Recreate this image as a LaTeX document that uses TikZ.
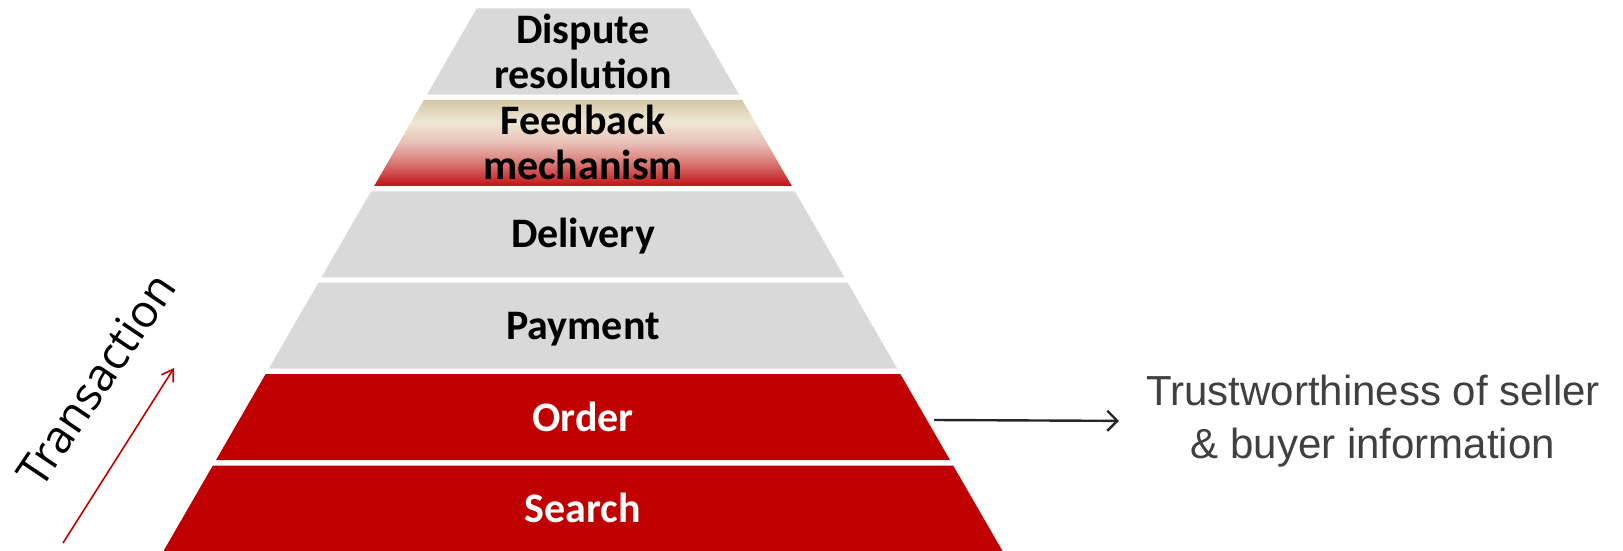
\documentclass[tikz,border=0pt]{standalone}
\usepackage{fontspec}
\setmainfont{Carlito}
\newfontfamily\notefont{Liberation Sans}
\newfontfamily\axisfont{Open Sans}
\usetikzlibrary{arrows.meta}

\definecolor{layergray}{RGB}{217,217,217}
\definecolor{layerred}{RGB}{192,0,0}
\definecolor{notegray}{RGB}{64,64,64}
\definecolor{fbtan}{RGB}{212,200,166}
\definecolor{fbcream}{RGB}{238,231,210}
\definecolor{fbpink}{RGB}{233,192,182}
\definecolor{fbrose}{RGB}{214,110,106}
\definecolor{fbred}{RGB}{192,18,22}

\pgfdeclareverticalshading{feedbackshade}{100bp}{color(0bp)=(fbred); color(25bp)=(fbred); color(37bp)=(fbrose); color(50bp)=(fbpink); color(62bp)=(fbcream); color(75bp)=(fbtan); color(100bp)=(fbtan)}

\begin{document}
\begin{tikzpicture}[y=-1pt,x=1pt,
	lbl/.style={font=\fontsize{42}{45}\selectfont\bfseries, align=center, text=black},
	lblw/.style={lbl, text=white},
	note/.style={font=\notefont\fontsize{42}{53}\selectfont, align=center, text=notegray, inner sep=0pt},
	axis/.style={font=\axisfont\fontsize{45.5}{50}\selectfont, text=black}]
	\newcommand\Layer[2]{({583-419.5+(551-#1)*0.5772},#1) -- ({583+419.5-(551-#1)*0.5772},#1) -- ({583+419.5-(551-#2)*0.5772},#2) -- ({583-419.5+(551-#2)*0.5772},#2) -- cycle}

	\useasboundingbox (0,0) rectangle (1623,551);

	% pyramid, top to bottom
	\fill[layergray] \Layer{8.5}{94.5};
	\shade[shading=feedbackshade] \Layer{99.9}{185.9};
	\fill[layergray] \Layer{191.3}{277.3};
	\fill[layergray] \Layer{282.7}{368.7};
	\fill[layerred] \Layer{374.1}{460.1};
	\fill[layerred] \Layer{465.5}{551.5};

	\node[lbl] (dispute) at (583,51.5) {Dispute\\resolution};
	\node[lbl] (feedback) at (583,142.9) {Feedback\\mechanism};
	\node[lbl] (delivery) at (583,236.3) {Delivery};
	\node[lbl] (payment) at (583,329.2) {Payment};
	\node[lblw] (order) at (583,417.1) {Order};
	\node[lblw] (search) at (583,507.5) {Search};

	% note on the right
	\coordinate (order-edge) at (934,420);
	\node[note] (trust) at (1373,421) {Trustworthiness of seller\\\& buyer information};
	\draw[-{Straight Barb[length=10pt,width=20pt]}, line width=2.4pt, color=black!85, shorten >=27pt] (order-edge) -- (trust.west);

	% transaction axis
	\coordinate (trans-start) at (63,543);
	\coordinate (trans-end) at (174,368);
	\draw[-{Straight Barb[length=11pt,width=14pt]}, line width=1.6pt, color=layerred] (trans-start) -- (trans-end);
	\node[axis, rotate=56] (trans) at (96,380) {Transaction};

\end{tikzpicture}
\end{document}
